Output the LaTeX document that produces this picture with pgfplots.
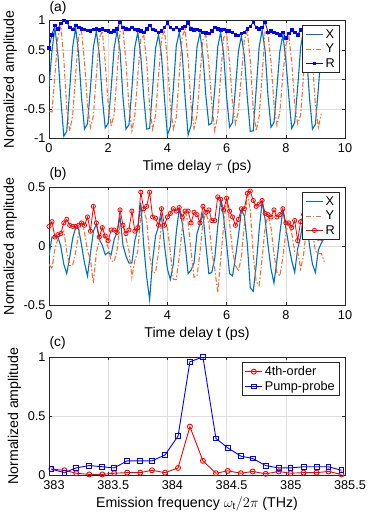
\documentclass[border=0pt]{standalone}
\usepackage{pgfplots}
\pgfplotsset{compat=1.18}
\usepackage{pgfplotstable}
\usepackage{fontspec}
\setmainfont{Liberation Sans}

\definecolor{mblue}{RGB}{0,114,189}
\definecolor{morange}{RGB}{245,110,50}
\definecolor{axgray}{RGB}{38,38,38}
\definecolor{gridgray}{RGB}{222,222,222}

% panel (a): t, X, Y, R
\pgfplotstableread{
t X Y R
0.0 -0.11 -0.54 0.54
0.1 0.48 -0.55 0.76
0.2 0.88 0.08 0.92
0.3 0.43 0.72 0.86
0.4 -0.33 0.90 0.95
0.5 -0.96 0.35 1.00
0.6 -0.88 -0.50 0.98
0.7 -0.16 -0.87 0.88
0.8 0.55 -0.61 0.85
0.9 0.88 0.08 0.92
1.0 0.44 0.73 0.88
1.1 -0.31 0.82 0.86
1.2 -0.84 0.30 0.85
1.3 -0.75 -0.43 0.83
1.4 -0.15 -0.81 0.82
1.5 0.55 -0.61 0.85
1.6 0.82 0.08 0.86
1.7 0.42 0.70 0.84
1.8 -0.31 0.82 0.86
1.9 -0.82 0.29 0.83
2.0 -0.74 -0.42 0.82
2.1 -0.15 -0.79 0.80
2.2 0.53 -0.59 0.82
2.3 0.82 0.08 0.86
2.4 0.49 0.81 0.97
2.5 -0.31 0.84 0.88
2.6 -0.84 0.30 0.86
2.7 -0.77 -0.44 0.85
2.8 -0.16 -0.87 0.88
2.9 0.55 -0.61 0.85
3.0 0.80 0.08 0.84
3.1 0.41 0.68 0.82
3.2 -0.29 0.76 0.80
3.3 -0.84 0.30 0.86
3.4 -0.83 -0.47 0.92
3.5 -0.15 -0.84 0.85
3.6 0.53 -0.60 0.83
3.7 0.76 0.07 0.80
3.8 0.41 0.68 0.82
3.9 -0.31 0.84 0.88
4.0 -0.94 0.34 0.96
4.1 -0.80 -0.45 0.88
4.2 -0.15 -0.84 0.85
4.3 0.57 -0.64 0.88
4.4 0.80 0.08 0.84
4.5 0.44 0.72 0.87
4.6 -0.32 0.86 0.90
4.7 -0.94 0.34 0.96
4.8 -0.78 -0.44 0.86
4.9 -0.15 -0.83 0.84
5.0 0.55 -0.61 0.85
5.1 0.79 0.07 0.83
5.2 0.40 0.67 0.80
5.3 -0.28 0.75 0.79
5.4 -0.77 0.27 0.78
5.5 -0.74 -0.42 0.82
5.6 -0.16 -0.87 0.88
5.7 0.55 -0.62 0.86
5.8 0.80 0.08 0.84
5.9 0.43 0.71 0.85
6.0 -0.29 0.78 0.82
6.1 -0.81 0.29 0.82
6.2 -0.73 -0.41 0.80
6.3 -0.14 -0.75 0.76
6.4 0.48 -0.54 0.75
6.5 0.74 0.07 0.78
6.6 0.40 0.67 0.80
6.7 -0.31 0.82 0.86
6.8 -0.88 0.32 0.90
6.9 -0.87 -0.50 0.97
7.0 -0.16 -0.87 0.88
7.1 0.55 -0.62 0.86
7.2 0.84 0.08 0.88
7.3 0.49 0.81 0.97
7.4 -0.29 0.76 0.80
7.5 -0.81 0.29 0.82
7.6 -0.73 -0.41 0.80
7.7 -0.14 -0.77 0.78
7.8 0.48 -0.55 0.76
7.9 0.76 0.07 0.80
8.0 0.34 0.58 0.70
8.1 -0.28 0.74 0.78
8.2 -0.83 0.29 0.84
8.3 -0.73 -0.41 0.80
8.4 -0.14 -0.75 0.76
8.5 0.54 -0.61 0.84
8.6 0.84 0.08 0.88
8.7 0.45 0.75 0.90
8.8 -0.31 0.84 0.88
8.9 -0.84 0.30 0.86
9.0 -0.76 -0.43 0.84
9.1 -0.15 -0.81 0.82
9.2 0.51 -0.58 0.80
}\dataA

% panel (b): t, X, Y, R
\pgfplotstableread{
t X Y R
0.0 -0.08 -0.15 0.17
0.1 0.08 -0.19 0.21
0.2 0.08 -0.02 0.08
0.3 0.08 0.06 0.10
0.4 0.00 0.11 0.11
0.5 -0.15 0.13 0.20
0.6 -0.23 -0.04 0.23
0.7 -0.09 -0.16 0.18
0.8 0.07 -0.16 0.17
0.9 0.16 -0.05 0.17
1.0 0.15 0.11 0.18
1.1 0.01 0.20 0.20
1.2 -0.14 0.12 0.18
1.3 -0.25 -0.04 0.25
1.4 -0.06 -0.11 0.13
1.5 0.13 -0.31 0.34
1.6 0.19 -0.05 0.20
1.7 0.06 0.05 0.08
1.8 0.01 0.16 0.16
1.9 -0.07 0.06 0.09
2.0 -0.05 -0.01 0.05
2.1 -0.07 -0.12 0.14
2.2 0.06 -0.13 0.14
2.3 0.12 -0.03 0.12
2.4 0.25 0.18 0.31
2.5 0.01 0.18 0.18
2.6 -0.08 0.07 0.11
2.7 -0.14 -0.03 0.14
2.8 -0.14 -0.26 0.30
2.9 0.05 -0.12 0.13
3.0 0.15 -0.04 0.16
3.1 0.37 0.27 0.46
3.2 0.01 0.32 0.32
3.3 -0.26 0.22 0.34
3.4 -0.45 -0.08 0.46
3.5 -0.12 -0.22 0.25
3.6 0.09 -0.22 0.24
3.7 0.17 -0.05 0.18
3.8 0.26 0.19 0.32
3.9 0.01 0.18 0.18
4.0 -0.19 0.16 0.25
4.1 -0.28 -0.05 0.28
4.2 -0.15 -0.28 0.32
4.3 0.12 -0.28 0.30
4.4 0.32 -0.09 0.33
4.5 0.20 0.15 0.25
4.6 0.01 0.30 0.30
4.7 -0.23 0.20 0.30
4.8 -0.20 -0.04 0.20
4.9 -0.14 -0.26 0.29
5.0 0.11 -0.25 0.27
5.1 0.19 -0.05 0.20
5.2 0.28 0.20 0.34
5.3 0.01 0.29 0.29
5.4 -0.23 0.20 0.31
5.5 -0.22 -0.04 0.22
5.6 -0.10 -0.19 0.22
5.7 0.17 -0.39 0.42
5.8 0.39 -0.11 0.40
5.9 0.25 0.18 0.31
6.0 0.02 0.41 0.41
6.1 -0.23 0.20 0.30
6.2 -0.25 -0.04 0.25
6.3 -0.09 -0.16 0.18
6.4 0.09 -0.21 0.23
6.5 0.31 -0.09 0.32
6.6 0.26 0.19 0.32
6.7 0.02 0.45 0.45
6.8 -0.35 0.31 0.47
6.9 -0.38 -0.07 0.39
7.0 -0.16 -0.30 0.34
7.1 0.14 -0.33 0.36
7.2 0.38 -0.10 0.39
7.3 0.23 0.16 0.28
7.4 0.01 0.27 0.27
7.5 -0.19 0.16 0.25
7.6 -0.31 -0.06 0.31
7.7 -0.12 -0.22 0.25
7.8 0.11 -0.25 0.27
7.9 0.31 -0.09 0.32
8.0 0.16 0.12 0.20
8.1 0.01 0.20 0.20
8.2 -0.12 0.11 0.16
8.3 -0.22 -0.04 0.22
8.4 -0.02 -0.04 0.05
8.5 0.08 -0.19 0.21
8.6 0.26 -0.07 0.27
8.7 0.20 0.15 0.25
8.8 0.01 0.23 0.23
8.9 -0.15 0.13 0.20
9.0 -0.22 -0.04 0.22
9.1 -0.03 -0.06 0.07
9.2 0.03 -0.06 0.07
9.3 0.07 -0.13 0.15
}\dataB

% panel (c): frequency, 4th-order, pump-probe
\pgfplotstableread{
f P4 PP
383.02 0.05 0.05
383.13 0.04 0.02
383.23 0.015 0.06
383.34 0.005 0.08
383.45 0.005 0.07
383.55 0.015 0.06
383.66 0.02 0.12
383.77 0.02 0.12
383.87 0.04 0.12
383.98 0.02 0.17
384.09 0.06 0.33
384.19 0.41 0.96
384.30 0.12 1.00
384.41 0.015 0.31
384.51 0.035 0.23
384.62 0.015 0.16
384.72 0.03 0.14
384.83 0.01 0.08
384.94 0.03 0.06
385.04 0.015 0.06
385.15 0.02 0.07
385.26 0.02 0.07
385.36 0.03 0.07
385.47 0.005 0.04
}\dataC

\pgfplotsset{
  panel/.style={
    width=296pt, height=118pt, scale only axis,
    anchor=north west,
    axis line style={axgray, line width=0.6pt},
    every tick/.style={axgray, line width=0.5pt},
    major tick length=3pt,
    tick align=inside,
    xtick pos=both, ytick pos=both,
    grid=major,
    major grid style={gridgray, line width=0.5pt},
    tick label style={font=\fontsize{12.7}{14}\selectfont, text=black},
    xticklabel style={yshift=-2pt},
    label style={font=\fontsize{14.2}{15}\selectfont},
    /pgf/number format/assume math mode=true,
    legend style={draw=axgray, line width=0.6pt, fill=white,
      font=\fontsize{12.7}{14}\selectfont, legend cell align=left,
      at={(1,1)}, anchor=north east, xshift=-5pt, yshift=-5pt},
  },
  xline/.style={mblue, line width=1.1pt},
  yline/.style={morange, line width=1.1pt, dash pattern=on 5pt off 2pt on 1.5pt off 2pt},
}

\begin{document}
\begin{tikzpicture}
\path[use as bounding box] (0pt,0pt) rectangle (374pt,-518pt);

\begin{axis}[panel, at={(49pt,-20.5pt)},
  xmin=0, xmax=10, ymin=-1, ymax=1,
  xtick={0,2,...,10}, ytick={-1,-0.5,0,0.5,1},
  xlabel={Time delay $\tau$ (ps)}, ylabel={Normalized amplitude}]
\addplot[xline] table[x=t, y=X] {\dataA};
\addplot[yline] table[x=t, y=Y] {\dataA};
\addplot[blue, line width=0.8pt, mark=square*, mark size=1.3pt] table[x=t, y=R] {\dataA};
\legend{X, Y, R}
\end{axis}

\begin{axis}[panel, at={(49pt,-187.5pt)},
  xmin=0, xmax=10, ymin=-0.5, ymax=0.5,
  xtick={0,2,...,10}, ytick={-0.5,0,0.5},
  xlabel={Time delay t (ps)}, ylabel={Normalized amplitude}]
\addplot[xline] table[x=t, y=X] {\dataB};
\addplot[yline] table[x=t, y=Y] {\dataB};
\addplot[red, line width=0.8pt, mark=o, mark size=2.1pt] table[x=t, y=R] {\dataB};
\legend{X, Y, R}
\end{axis}

\begin{axis}[panel, at={(49pt,-357pt)},
  xmin=383, xmax=385.5, ymin=0, ymax=1,
  xtick={383,383.5,...,385.5}, ytick={0,0.5,1},
  xticklabel style={xshift=5pt, /pgf/number format/fixed, /pgf/number format/precision=1},
  xlabel={Emission frequency $\omega_{\mathrm{t}}/2\pi$ (THz)}, ylabel={Normalized amplitude}]
\addplot[red, line width=0.9pt, mark=o, mark size=2.5pt] table[x=f, y=P4] {\dataC};
\addplot[blue, line width=0.9pt, mark=square, mark size=2.4pt] table[x=f, y=PP] {\dataC};
\legend{4th-order, Pump-probe}
\end{axis}

\node[anchor=west, font=\fontsize{13.8}{15}\selectfont] at (46pt,-8pt) {(a)};
\node[anchor=west, font=\fontsize{13.8}{15}\selectfont] at (46pt,-174pt) {(b)};
\node[anchor=west, font=\fontsize{13.8}{15}\selectfont] at (46pt,-343pt) {(c)};
\end{tikzpicture}
\end{document}
